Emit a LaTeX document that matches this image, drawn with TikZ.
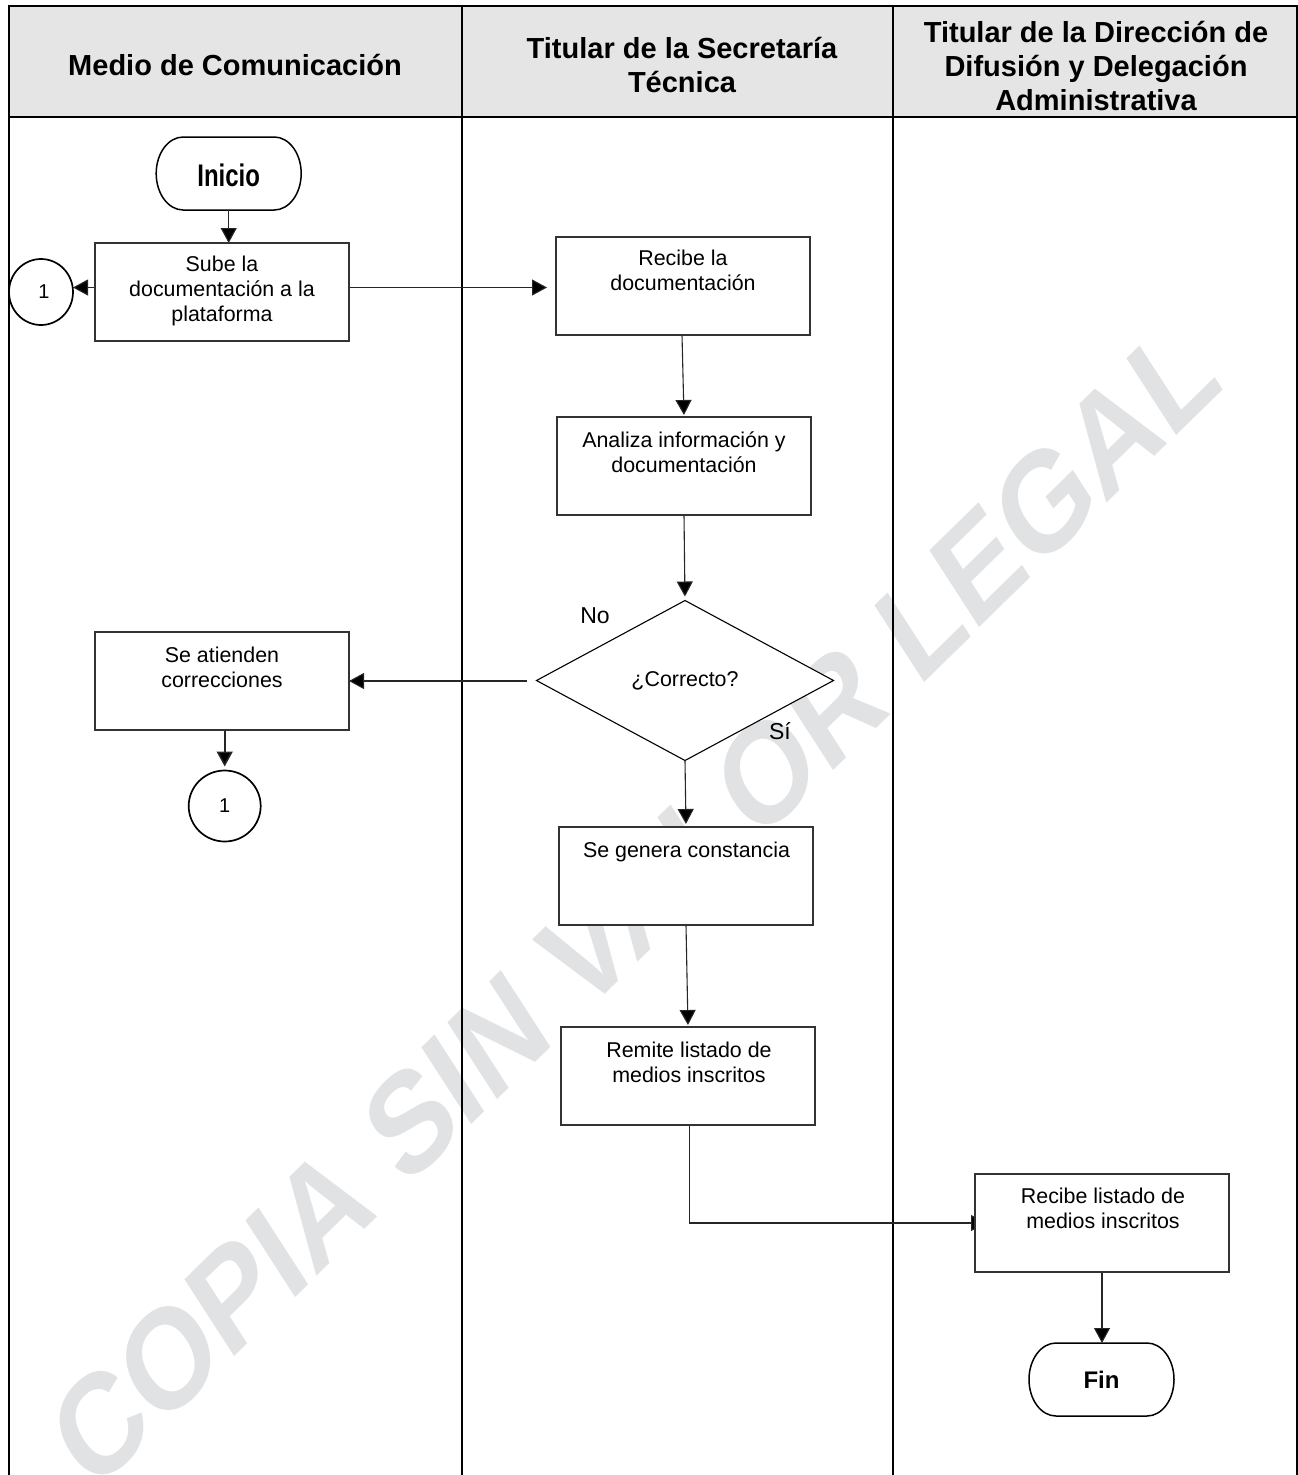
\documentclass[tikz,border=0pt]{standalone}
\usepackage{graphicx}
\usepackage{fontspec}
\setmainfont{Liberation Sans}
\usetikzlibrary{arrows.meta,shapes.geometric}
\definecolor{wm}{RGB}{225,226,228}
\definecolor{hdr}{RGB}{229,229,229}
\pgfdeclarelayer{lanes}
\pgfdeclarelayer{links}
\pgfsetlayers{lanes,links,main}
\tikzset{
 x=1pt,y=-1pt,
 lane/.style={draw=black,line width=2pt},
 box/.style={draw=black!80,fill=white,line width=1.1pt,minimum width=254pt,minimum height=98pt,anchor=north west,inner sep=0pt,outer sep=0pt},
 boxtext/.style={anchor=north,align=center,inner sep=0pt,font=\fontsize{21.4}{25}\selectfont},
 term/.style={inner sep=0pt,outer sep=0pt,minimum width=145pt,minimum height=73pt,font=\fontsize{24}{28}\selectfont\bfseries},
 termline/.style={draw=black,fill=white,line width=1.5pt},
 conn/.style={draw=black,fill=white,ellipse,line width=1.7pt,inner sep=0pt,outer sep=0pt,font=\fontsize{20}{24}\selectfont},
 flow/.style={draw=black!85,line width=1.1pt,-{Triangle[length=15pt,width=16pt,fill=black]}},
 head/.style={align=center,font=\fontsize{29}{34}\selectfont\bfseries},
 lbl/.style={font=\fontsize{23}{26}\selectfont},
}
\newcommand{\termpath}[1]{%
 \draw[termline] ([xshift=27pt]#1.north west) -- ([xshift=-27pt]#1.north east)
   arc[start angle=90,end angle=-90,x radius=27pt,y radius=36.5pt]
   -- ([xshift=27pt]#1.south west)
   arc[start angle=270,end angle=90,x radius=27pt,y radius=36.5pt] -- cycle;}
\begin{document}
\begin{tikzpicture}
\useasboundingbox (0,0) rectangle (1298,1475);
\begin{pgfonlayer}{lanes}
\fill[white] (0,0) rectangle (1298,1475);
\begin{scope}[yscale=1.23]
\node[transform shape,rotate=38.5,anchor=base east,inner sep=0pt,text=wm,font=\fontsize{116}{116}\selectfont\bfseries] (wmark) at (1226,314.6) {COPIA SIN VALOR LEGAL};
\end{scope}
\fill[hdr] (9,6) rectangle (1297,117);
\draw[lane] (9,1475) -- (9,6) -- (1297,6) -- (1297,1475);
\draw[lane] (9,117) -- (1297,117);
\draw[lane] (462,6) -- (462,1475);
\draw[lane] (893,6) -- (893,1475);
\end{pgfonlayer}
\node[head] (h1) at (235,65) {Medio de Comunicación};
\node[head] (h2) at (682,65) {Titular de la Secretaría\\Técnica};
\node[head] (h3) at (1096,66) {Titular de la Dirección de\\Difusión y Delegación\\Administrativa};
\node[term] (ini) at (228.7,173.5) {\rule{0pt}{27pt}\scalebox{1}[1.3]{Inicio}};
\node[box] (b1) at (95,243) {};
\node[boxtext] (t1) at (222,256) {Sube la\\documentación a la\\plataforma};
\node[conn,minimum width=64pt,minimum height=66pt] (c1) at (41,292) {\hspace*{6pt}1};
\node[box] (b2) at (556,237) {};
\node[boxtext] (t2) at (683,250) {Recibe la\\documentación};
\node[box] (b3) at (557,417) {};
\node[boxtext] (t3) at (684,432) {Analiza información y\\documentación};
\node[diamond,draw=black,fill=white,line width=1.1pt,minimum width=297pt,minimum height=160pt,inner sep=0pt,outer sep=0pt,font=\fontsize{21.4}{25}\selectfont] (d) at (685,680.5) {¿Correcto?};
\node[box] (b4) at (95,632) {};
\node[boxtext] (t4) at (222,647) {Se atienden\\correcciones};
\node[conn,minimum width=72pt,minimum height=71pt] (c2) at (224.7,806) {1};
\node[box] (b5) at (559,827) {};
\node[boxtext] (t5) at (686.5,842) {Se genera constancia};
\node[box] (b6) at (561,1027) {};
\node[boxtext] (t6) at (689,1042) {Remite listado de\\medios inscritos};
\node[box] (b7) at (975,1174) {};
\node[boxtext] (t7) at (1103,1188) {Recibe listado de\\medios inscritos};
\node[term] (fin) at (1101.5,1379.5) {Fin};
\node[lbl] (no) at (595,616) {No};
\node[lbl] (si) at (780,731) {Sí};
\coordinate (dw) at (527,681);
\coordinate (a1) at (73,287.5);
\begin{pgfonlayer}{links}
\termpath{ini}
\termpath{fin}
\draw[flow] (ini.south) -- (ini.south |- b1.north);
\draw[flow] (b1.west |- a1) -- (a1);
\draw[flow,shorten >=9pt] (b1.east |- a1) -- (b2.west |- a1);
\draw[flow,shorten >=2pt] ([xshift=-1pt]b2.south) -- (b3.north);
\draw[flow,shorten >=4pt] (b3.south) -- (d.north);
\draw[flow] (dw) -- (b4.east |- dw);
\draw[flow,shorten >=3pt] (d.south) -- (b5.north);
\draw[flow,shorten >=2pt] (b5.south) -- (b6.north);
\draw[flow,shorten >=4pt,line width=1.6pt] (b4.south -| c2) -- (c2.north);
\draw[flow,shorten >=-11pt] ([xshift=1.5pt]b6.south) |- (b7.west);
\draw[flow] (b7.south) -- (b7.south |- fin.north);
\end{pgfonlayer}
\end{tikzpicture}
\end{document}
